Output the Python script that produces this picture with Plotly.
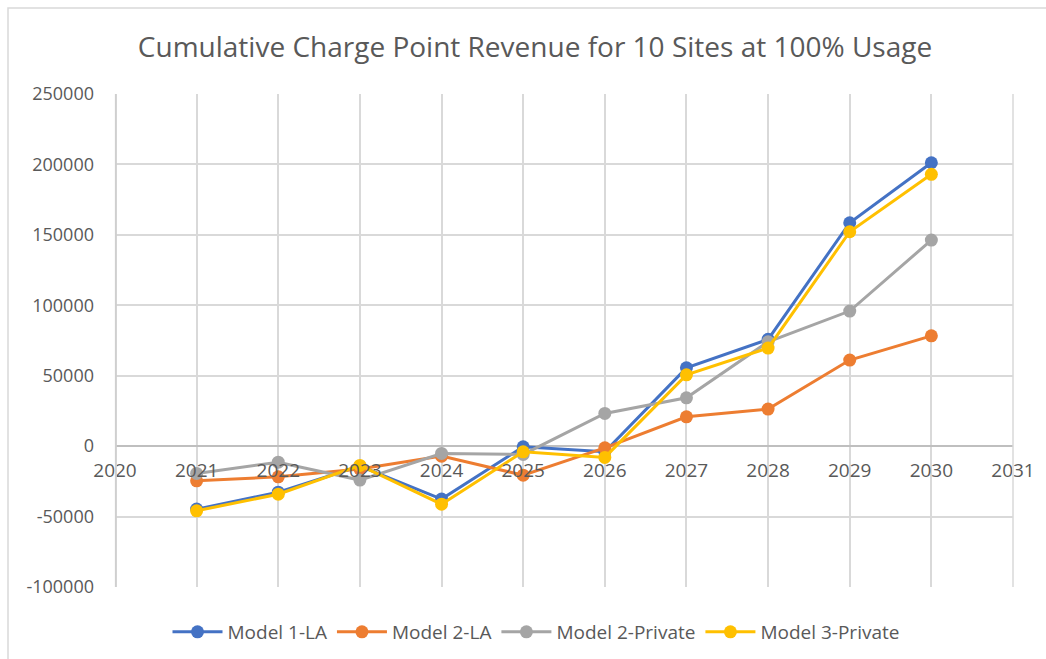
import plotly.graph_objects as go

years = [2021, 2022, 2023, 2024, 2025, 2026, 2027, 2028, 2029, 2030]
model1_la = [-44700, -32700, -14200, -37600, -500, -4000, 55600, 75800, 158600, 201200]
model2_la = [-24600, -21800, -16300, -7100, -20600, -1200, 20800, 26300, 61100, 78300]
model2_private = [-19400, -11400, -24100, -5200, -5900, 23200, 34300, 74100, 95900, 146300]
model3_private = [-45900, -34100, -13700, -41200, -4000, -8000, 50600, 69600, 152200, 193000]

y_ticks = [-100000, -50000, 0, 50000, 100000, 150000, 200000, 250000]
y_tick_labels = ["-100000", "-50000", "0", "50000", "100000", "150000", "200000", "250000"]

series = [
    ("Model 1-LA", model1_la, "#4472C4"),
    ("Model 2-LA", model2_la, "#ED7D31"),
    ("Model 2-Private", model2_private, "#A5A5A5"),
    ("Model 3-Private", model3_private, "#FFC000"),
]

FONT = "Open Sans"
TEXT = "#595959"
GRID = "#D9D9D9"

fig = go.Figure()
for name, vals, color in series:
    fig.add_trace(go.Scatter(
        x=years, y=vals, name=name, mode="lines+markers",
        line=dict(color=color, width=3),
        marker=dict(color=color, size=13),
    ))

W, H = 1046, 659
ml, mr, mt, mb = 115, 33, 94, 72
pw, ph = W - ml - mr, H - mt - mb

fig.update_layout(
    width=W, height=H,
    margin=dict(l=ml, r=mr, t=mt, b=mb, autoexpand=False),
    paper_bgcolor="white", plot_bgcolor="rgba(0,0,0,0)",
    font=dict(family=FONT, color=TEXT, size=18),
    title=dict(
        text="Cumulative Charge Point Revenue for 10 Sites at 100% Usage",
        x=535 / W, xanchor="center", xref="container",
        y=1 - 47 / H, yanchor="middle", yref="container",
        font=dict(family=FONT, size=28, color=TEXT),
    ),
    showlegend=True,
    legend=dict(
        orientation="h", x=(536 - ml) / pw, xanchor="center",
        y=1 - 632 / H, yanchor="middle", yref="container",
        font=dict(family=FONT, size=19, color=TEXT),
        itemwidth=50, bgcolor="rgba(0,0,0,0)",
    ),
    xaxis=dict(
        range=[2020, 2031], dtick=1, tick0=2020,
        showgrid=True, gridcolor=GRID, gridwidth=1.5,
        zeroline=False, showline=False, automargin=False,
        anchor="free", position=100000 / 350000,
        ticks="", ticklabelstandoff=11,
        tickfont=dict(family=FONT, size=19, color=TEXT),
    ),
    yaxis=dict(
        range=[-100000, 250000], tickvals=y_ticks, ticktext=y_tick_labels,
        showgrid=True, gridcolor=GRID, gridwidth=1.5,
        zeroline=True, zerolinecolor="#BFBFBF", zerolinewidth=1.5,
        showline=False, automargin=False,
        ticks="", ticklabelstandoff=20,
        tickfont=dict(family=FONT, size=18, color=TEXT),
    ),
    shapes=[
        dict(
            type="rect", xref="paper", yref="paper", layer="below",
            x0=(8 - ml) / pw, x1=(W + 10 - ml) / pw,
            y0=-(H + 10 - (mt + ph)) / ph, y1=1 + (mt - 8) / ph,
            line=dict(color=GRID, width=1.5), fillcolor="rgba(0,0,0,0)",
        ),
        # plot-area border lines on the left and right
        dict(type="line", xref="paper", yref="paper", layer="above",
             x0=0.001, x1=0.001, y0=0, y1=1, line=dict(color="#CFCFCF", width=2)),
        dict(type="line", xref="paper", yref="paper", layer="above",
             x0=1, x1=1, y0=0, y1=1, line=dict(color=GRID, width=1.5)),
    ],
)

fig.write_html("out.html")
